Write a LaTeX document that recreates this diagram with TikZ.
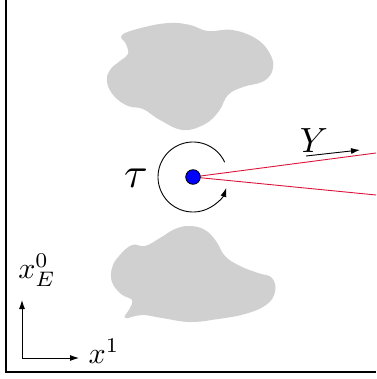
\documentclass[tikz,border=0pt]{standalone}
\usetikzlibrary{arrows.meta}
\definecolor{blobgray}{RGB}{208,208,208}
\definecolor{raycol}{RGB}{220,20,60}
\tikzset{
  blob/.style={fill=blobgray, draw=none},
  ray/.style={draw=raycol, line width=0.9pt},
  axisarrow/.style={line width=0.9pt, -{Latex[length=9pt,width=6pt]}},
  frameline/.style={line width=1.2pt},
  robot/.style={circle, fill=blue, draw=black, line width=0.8pt, minimum size=14.6pt, inner sep=0pt},
  lbl/.style={inner sep=0pt}
}
\begin{document}
\begin{tikzpicture}[x=1pt,y=-1pt]
\useasboundingbox (0,0) rectangle (376,379);
% frame
\coordinate (ftop) at (6,0);
\coordinate (fcorner) at (6,372);
\coordinate (fright) at (376,372);
\draw[frameline] (ftop) -- (fcorner) -- (fright);
% top obstacle
\fill[blob] plot[smooth cycle, tension=0.7] coordinates {
 (122,35) (145,27) (170,23) (190,25) (208,31) (232,30) (255,38) (269,52)
 (273,68) (264,81) (243,87) (228,95) (219,111) (205,124) (183,130) (160,120)
 (143,109) (128,106) (114,96) (107,82) (110,70) (120,61) (128,54) (126,44)};
% bottom obstacle
\fill[blob] plot[smooth cycle, tension=0.7] coordinates {
 (132,245) (145,246) (160,238) (175,229) (190,226) (205,230) (216,241)
 (225,256) (240,266) (258,273) (272,278) (275,292) (266,305) (245,314)
 (218,319) (190,322) (162,318) (142,315) (125,318) (130,308) (132,300)
 (121,294) (112,282) (112,268) (119,256)};
% robot
\coordinate (rc) at (193,177);
\coordinate (rayA) at (376,153);
\coordinate (rayB) at (376,195);
\draw[ray] (rc) -- (rayA);
\draw[ray] (rc) -- (rayB);
\node[robot] (r) at (rc) {};
% torque arc
\draw[line width=0.9pt, -{Latex[length=9pt,width=6pt]}] ([shift={(-25:35)}]r.center) arc[start angle=-25, end angle=-342, radius=35];
\node[lbl, scale=4.3] (tau) at (136,178) {$\tau$};
% Y direction
\coordinate (ys) at (306,156);
\coordinate (ye) at (360,150);
\draw[axisarrow] (ys) -- (ye);
\node[lbl, scale=3.5] (Y) at (314,141) {$Y$};
% axes
\coordinate (o) at (22,358);
\coordinate (ax0) at (22,300);
\coordinate (ax1) at (79,358);
\draw[axisarrow] (o) -- (ax0);
\draw[axisarrow] (o) -- (ax1);
\node[lbl, scale=3.0] (x0) at (37,270) {$x_E^0$};
\node[lbl, scale=3.0] (x1) at (104,351) {$x^1$};
\end{tikzpicture}
\end{document}
